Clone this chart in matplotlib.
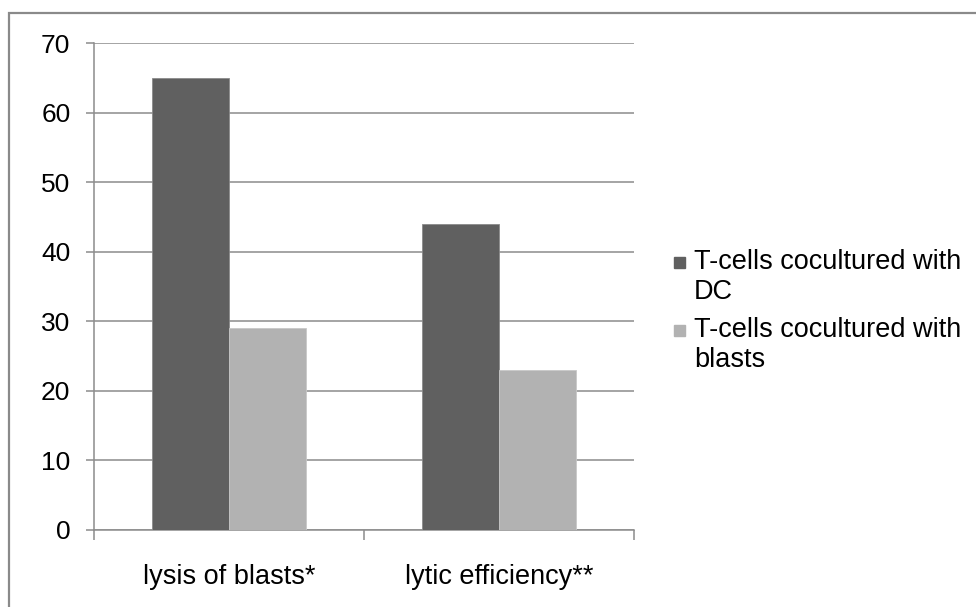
import matplotlib.pyplot as plt
from matplotlib.patches import Rectangle
import numpy as np

plt.rcParams['font.family'] = ['Liberation Sans', 'DejaVu Sans']

# data
categories = ["lysis of blasts*", "lytic efficiency**"]
series_names = ["T-cells cocultured with\nDC", "T-cells cocultured with\nblasts"]
dc_values = [65, 44]
blast_values = [29, 23]
colors = ["#606060", "#b2b2b2"]

W, H = 976, 607
fig = plt.figure(figsize=(W / 100, H / 100), dpi=100)
ax = fig.add_axes([94 / W, (H - 529.7) / H, 540 / W, 486.5 / H])

x = np.arange(len(categories))
w = 1 / 3.5
ax.bar(x - w / 2, dc_values, w, color=colors[0], edgecolor="#8a8a8a", linewidth=0.6, zorder=3)
ax.bar(x + w / 2, blast_values, w, color=colors[1], edgecolor="#c8c8c8", linewidth=0.6, zorder=3)

ax.set_xlim(-0.5, len(categories) - 0.5)
ax.set_ylim(0, 70)
ax.set_yticks(range(0, 71, 10))
ax.yaxis.grid(True, color="#8c8c8c", linewidth=1.1, zorder=0)

# category labels in the middle, tick marks on the boundaries
ax.set_xticks(x)
ax.set_xticklabels(categories)
ax.set_xticks(np.arange(-0.5, len(categories), 1), minor=True)
ax.tick_params(axis="x", which="major", length=0, pad=25, labelsize=19.5)
ax.tick_params(axis="x", which="minor", length=7, width=1.1, color="#8c8c8c", direction="out")
ax.tick_params(axis="y", length=6, width=1.1, color="#8c8c8c", pad=11, labelsize=19)

for s in ["top", "right"]:
    ax.spines[s].set_visible(False)
for s in ["left", "bottom"]:
    ax.spines[s].set_color("#8c8c8c")
    ax.spines[s].set_linewidth(1.1)

# legend drawn by hand so the swatch sits on the first text line
leg_y = [263, 331]
for name, c, yy in zip(series_names, colors, leg_y):
    fig.patches.append(Rectangle((674 / W, (H - yy - 5) / H), 11 / W, 11 / H,
                                 transform=fig.transFigure, color=c))
    fig.text(694 / W, (H - yy + 14) / H, name, fontsize=19.5, va="top", ha="left",
             linespacing=1.18)

# chart border, cut off at the right and bottom
fig.patches.append(Rectangle((9 / W, -0.1), 1.2, (H - 13) / H + 0.1,
                             transform=fig.transFigure, fill=False,
                             edgecolor="#8a8a8a", linewidth=1.6))

fig.savefig("out.png", dpi=100)
